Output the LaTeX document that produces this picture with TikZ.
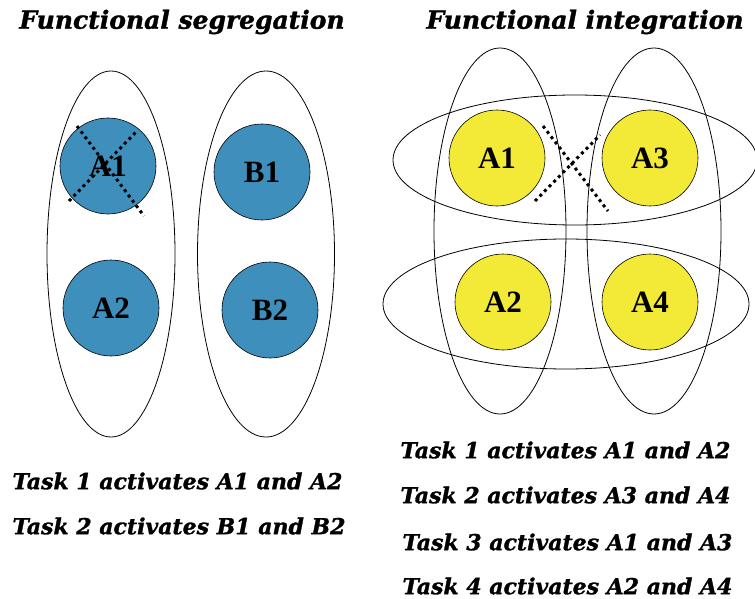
\documentclass[tikz,border=0pt]{standalone}
\usepackage{fontspec}
\setmainfont{Liberation Serif}
\newfontfamily\slabfont{DejaVu Serif}[BoldItalicFeatures={FakeBold=1.3}]
\usetikzlibrary{shapes.geometric}

\definecolor{unitblue}{HTML}{3F8FBD}
\definecolor{unityellow}{HTML}{F2EA36}

\tikzset{
	region/.style={draw, ellipse, line width=0.8pt, inner sep=0pt},
	unit/.style={circle, draw, line width=0.6pt, minimum size=96pt, inner sep=0pt,
		font=\fontsize{31}{31}\selectfont\bfseries},
	blueunit/.style={unit, fill=unitblue},
	yellowunit/.style={unit, fill=unityellow},
	crossline/.style={line width=3pt, dash pattern=on 3pt off 3.6pt},
	heading/.style={font=\slabfont\fontsize{25}{25}\selectfont\bfseries\itshape},
	task/.style={anchor=west, font=\slabfont\fontsize{22}{22}\selectfont\bfseries\itshape}
}

\begin{document}
\begin{tikzpicture}[x=1pt, y=-1pt]
			\useasboundingbox (0,0) rectangle (755,599);

			% segregation: one region per pair
				\node[heading] (segtitle) at (182,22) {Functional segregation};
				\node[region, minimum width=128pt, minimum height=366pt] (regA) at (111,254) {};
				\node[region, minimum width=137pt, minimum height=366pt] (regB) at (266,254) {};

				\node[blueunit] (sA1) at (108,166) {A1};
				\node[blueunit] (sB1) at (262,172) {B1};
				\node[blueunit] (sA2) at (111,308) {A2};
				\node[blueunit] (sB2) at (270,310) {B2};

				\coordinate (sx1) at (77,126);
				\coordinate (sx2) at (144,216);
				\coordinate (sx3) at (69,201);
				\coordinate (sx4) at (137,131);
				\draw[crossline] (sx1) -- (sx2);
				\draw[crossline] (sx3) -- (sx4);

				\node[task] (stask1) at (9,481) {Task 1 activates A1 and A2};
				\node[task] (stask2) at (9,526) {Task 2 activates B1 and B2};

			% integration: regions overlap in rows and columns
				\node[heading] (inttitle) at (585,22) {Functional integration};
				\node[region, minimum width=132pt, minimum height=366pt] (colL) at (500,231) {};
				\node[region, minimum width=134pt, minimum height=366pt] (colR) at (654,231) {};
				\node[region, minimum width=364pt, minimum height=130pt] (rowT) at (575,160) {};
				\node[region, minimum width=366pt, minimum height=130pt] (rowB) at (566,304) {};

				\node[yellowunit] (iA1) at (497,158) {A1};
				\node[yellowunit] (iA3) at (650,158) {A3};
				\node[yellowunit] (iA2) at (503,302) {A2};
				\node[yellowunit] (iA4) at (650,302) {A4};

				\coordinate (ix1) at (543,126);
				\coordinate (ix2) at (608,211);
				\coordinate (ix3) at (535,201);
				\coordinate (ix4) at (600,135);
				\draw[crossline] (ix1) -- (ix2);
				\draw[crossline] (ix3) -- (ix4);

				\node[task] (itask1) at (397,450) {Task 1 activates A1 and A2};
				\node[task] (itask2) at (397,495) {Task 2 activates A3 and A4};
				\node[task] (itask3) at (399,542) {Task 3 activates A1 and A3};
				\node[task] (itask4) at (399,586) {Task 4 activates A2 and A4};

\end{tikzpicture}
\end{document}
